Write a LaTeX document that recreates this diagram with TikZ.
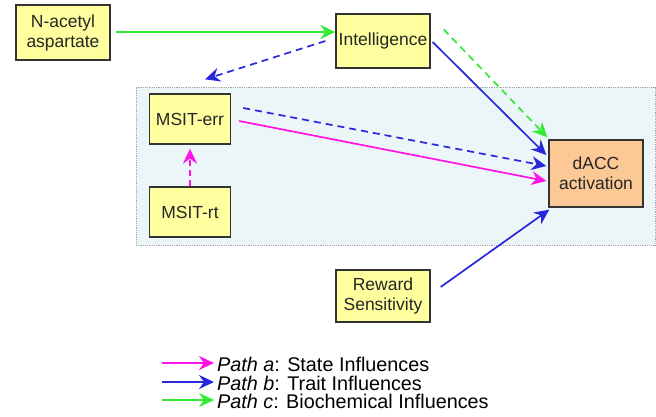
\documentclass[tikz,border=0pt]{standalone}
\usepackage{fontspec}
\setmainfont{Liberation Sans}
\usetikzlibrary{arrows.meta,calc}
\definecolor{boxyellow}{RGB}{255,255,160}
\definecolor{boxpeach}{RGB}{251,200,150}
\definecolor{bgblue}{RGB}{236,245,248}
\definecolor{agreen}{RGB}{50,235,50}
\definecolor{ablue}{RGB}{40,40,220}
\definecolor{amag}{RGB}{255,20,230}
\tikzset{
  varbox/.style={draw=black!80, line width=1.3pt, fill=boxyellow, align=center, inner sep=2pt,
     font=\fontsize{17.5}{20}\selectfont, text=black!85},
  tip/.style={-{Stealth[length=15pt,width=14pt,inset=5pt]}},
  conn/.style={tip, line width=1.7pt},
  dashline/.style={dash pattern=on 7pt off 5pt},
  legtext/.style={anchor=west, inner sep=0pt, font=\fontsize{19.8}{20}\selectfont, text=black}
}
\begin{document}
\begin{tikzpicture}[x=1pt,y=-1pt]
\useasboundingbox (0,0) rectangle (656,416);
% background panel
\node[draw=black!35, densely dotted, line width=0.8pt, fill=bgblue, minimum width=519pt, minimum height=158pt, inner sep=0pt] (panel) at (395.5,166) {};
% boxes
\node[varbox, minimum width=94pt, minimum height=55pt] (nac) at (63,32.5) {N-acetyl\\aspartate};
\node[varbox, minimum width=94pt, minimum height=54pt] (intel) at (383,41) {Intelligence};
\node[varbox, minimum width=81pt, minimum height=50pt] (err) at (190,119) {MSIT-err};
\node[varbox, minimum width=81pt, minimum height=50pt] (rt) at (190,212) {MSIT-rt};
\node[varbox, fill=boxpeach, minimum width=94pt, minimum height=67pt] (dacc) at (596,173.5) {dACC\\activation};
\node[varbox, minimum width=94pt, minimum height=52pt] (reward) at (383,296) {Reward\\Sensitivity};
% connectors
\draw[conn, agreen] ($(nac.east)+(5,-0.5)$) -- ($(intel.west)+(0,-9)$);
\draw[conn, ablue, dashline] ($(intel.west)+(-10,0)$) -- ($(err.north)+(15,-14)$);
\draw[conn, agreen, dashline] ($(intel.north east)+(13,16)$) -- ($(dacc.north west)+(-1,-2)$);
\draw[conn, ablue] ($(intel.east)+(2,1)$) -- ($(dacc.west)+(-2,-18.5)$);
\draw[conn, ablue, dashline] ($(err.east)+(12,-11)$) -- ($(dacc.west)+(-2,-7.5)$);
\draw[conn, amag] ($(err.east)+(8,2)$) -- ($(dacc.west)+(-2,7.5)$);
\draw[conn, amag, line width=2pt, dash pattern=on 6pt off 4pt] (rt.north) -- ($(err.south)+(0,4)$);
\draw[conn, ablue] ($(reward.east)+(10,-9)$) -- ($(dacc.south west)+(1,2)$);
% legend
\coordinate (la1) at (162,363); \coordinate (la2) at (214,363);
\coordinate (lb1) at (162,382); \coordinate (lb2) at (214,382);
\coordinate (lc1) at (162,400); \coordinate (lc2) at (214,400);
\draw[conn, amag] (la1) -- (la2);
\draw[conn, ablue] (lb1) -- (lb2);
\draw[conn, agreen] (lc1) -- (lc2);
\node[legtext] (ta) at (217,364) {\textit{Path a}: State Influences};
\node[legtext] (tb) at (217,383) {\textit{Path b}: Trait Influences};
\node[legtext] (tc) at (217,401) {\textit{Path c}: Biochemical Influences};
\end{tikzpicture}
\end{document}
